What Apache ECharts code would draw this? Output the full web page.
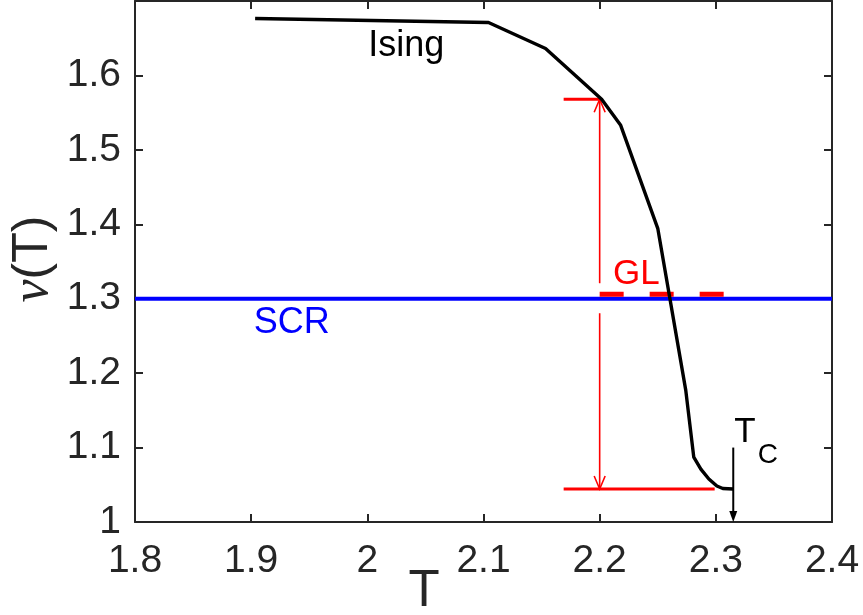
<!DOCTYPE html>
<html>
<head>
<meta charset="utf-8">
<script src="https://cdn.jsdelivr.net/npm/echarts@6/dist/echarts.min.js"></script>
<style>
html,body{margin:0;padding:0;background:#fff;}
#chart{width:863px;height:615px;}
</style>
</head>
<body>
<div id="chart"></div>
<script>
// ---- data ----
const xTicks = [1.8, 1.9, 2.0, 2.1, 2.2, 2.3, 2.4];
const yTicks = [1.0, 1.1, 1.2, 1.3, 1.4, 1.5, 1.6];
const isingT  = [1.9034, 2.1043, 2.1534, 2.2017, 2.2181, 2.2500, 2.2741, 2.2810, 2.2871, 2.2940, 2.3009, 2.3060, 2.3150];
const isingNu = [1.6765, 1.6711, 1.6362, 1.5680, 1.5329, 1.3946, 1.1772, 1.0872, 1.0711, 1.0577, 1.0483, 1.0450, 1.0443];
const scrNu = 1.3;
const scrT = [1.8, 2.4];
const glNu = 1.306;
const glT = [2.2, 2.307];
const redTopT = [2.169, 2.2017];
const redTopNu = 1.568;
const redBotT = [2.169, 2.299];
const redBotNu = 1.0443;
const redArrowT = 2.2;
const redArrowGap = [1.2805, 1.3208];
const tcT = 2.315;
const tcNu = [1.1, 1.0];
const labelText = ['Ising', 'SCR', 'GL', 'T', 'C'];
const labelT    = [2.0336, 1.9349, 2.2315, 2.325, 2.3448];
const labelNu   = [1.6389, 1.2678, 1.3322, 1.120, 1.0899];

// ---- build ----
const AX = '#262626';
const sans = '"Liberation Sans", Arial, Helvetica, sans-serif';
const labelColor = ['#000000', '#0000ff', '#ff0000', '#000000', '#000000'];
const labelSize = [36, 36, 35, 35, 28];

function fmt(v){ return String(Math.round(v*10)/10); }

const chart = echarts.init(document.getElementById('chart'));

function axisCommon(pos, showLabel, isX){
  return {
    type:'value', position:pos,
    min: isX ? xTicks[0] : yTicks[0],
    max: isX ? xTicks[xTicks.length-1] : 1.7,
    interval: 0.1,
    axisLine:{show:true, onZero:false, lineStyle:{color:AX, width:2}},
    axisTick:{show:true, inside:true, length:8, lineStyle:{color:AX, width:2}},
    axisLabel:{show:showLabel, color:AX, fontSize:39, fontFamily:sans,
      margin: isX ? 20 : 14,
      formatter: v => (v > 1.69 && !isX) ? '' : fmt(v)},
    splitLine:{show:false}
  };
}

const arrowData = [
  [redArrowT, redArrowGap[1], redArrowT, redTopNu, 0],
  [redArrowT, redArrowGap[0], redArrowT, redBotNu, 0],
  [tcT, tcNu[0], tcT, tcNu[1], 1]
];

function renderArrow(params, api){
  const p1 = api.coord([api.value(0), api.value(1)]);
  const p2 = api.coord([api.value(2), api.value(3)]);
  const kind = api.value(4);
  const dx = p2[0]-p1[0], dy = p2[1]-p1[1];
  const len = Math.sqrt(dx*dx+dy*dy);
  const ux = dx/len, uy = dy/len, nx = -uy, ny = ux;
  if (kind === 0){
    const L = 13, W = 5.5;
    const b = [p2[0]-ux*L, p2[1]-uy*L];
    return {type:'group', children:[
      {type:'line', shape:{x1:p1[0],y1:p1[1],x2:p2[0],y2:p2[1]}, style:{stroke:'#ff0000', lineWidth:1.6}},
      {type:'polyline', shape:{points:[[b[0]+nx*W,b[1]+ny*W],[p2[0],p2[1]],[b[0]-nx*W,b[1]-ny*W]]}, style:{stroke:'#ff0000', lineWidth:1.6, fill:null}}
    ]};
  } else {
    const L = 11, W = 4;
    const b = [p2[0]-ux*L, p2[1]-uy*L];
    return {type:'group', children:[
      {type:'line', shape:{x1:p1[0],y1:p1[1],x2:b[0],y2:b[1]}, style:{stroke:'#000', lineWidth:2}},
      {type:'polygon', shape:{points:[[b[0]+nx*W,b[1]+ny*W],[p2[0],p2[1]],[b[0]-nx*W,b[1]-ny*W]]}, style:{fill:'#000'}}
    ]};
  }
}

function renderLabel(params, api){
  const i = params.dataIndex;
  const p = api.coord([api.value(0), api.value(1)]);
  return {type:'text', x:p[0], y:p[1], style:{text:labelText[i], fill:labelColor[i],
    fontSize:labelSize[i], fontFamily:sans, align:'center', verticalAlign:'middle'}};
}

const option = {
  animation:false,
  backgroundColor:'#fff',
  grid:{left:135, right:31, top:1, bottom:93, containLabel:false},
  xAxis:[axisCommon('bottom', true, true), axisCommon('top', false, true)],
  yAxis:[axisCommon('left', true, false), axisCommon('right', false, false)],
  graphic:[
    {type:'text', x:33, y:259, rotation:Math.PI/2, style:{
      text:'{n|ν}{p|(T)}', align:'center', verticalAlign:'middle',
      rich:{n:{fontFamily:'"Liberation Serif", "Times New Roman", serif', fontStyle:'italic', fontSize:52, fill:AX},
            p:{fontFamily:sans, fontSize:50, fill:AX}}}},
    {type:'text', x:424, y:592, style:{text:'T', fontFamily:sans, fontSize:51, fill:AX, align:'center', verticalAlign:'middle'}}
  ],
  series:[
    {type:'line', name:'SCR', symbol:'none', silent:true,
     data: scrT.map(t => [t, scrNu]), lineStyle:{color:'#0000ff', width:4}},
    {type:'line', name:'GL', symbol:'none', silent:true,
     data: glT.map(t => [t, glNu]), lineStyle:{color:'#ff0000', width:5, type:[24,26], cap:'butt'}},
    {type:'line', name:'redTop', symbol:'none', silent:true,
     data: redTopT.map(t => [t, redTopNu]), lineStyle:{color:'#ff0000', width:3}},
    {type:'line', name:'redBot', symbol:'none', silent:true,
     data: redBotT.map(t => [t, redBotNu]), lineStyle:{color:'#ff0000', width:3}},
    {type:'line', name:'Ising', symbol:'none', silent:true,
     data: isingT.map((t,i) => [t, isingNu[i]]), lineStyle:{color:'#000', width:3.4}},
    {type:'custom', name:'arrows', silent:true, renderItem:renderArrow, data:arrowData, clip:false},
    {type:'custom', name:'labels', silent:true, renderItem:renderLabel,
     data: labelT.map((t,i) => [t, labelNu[i]]), clip:false}
  ]
};
chart.setOption(option);
</script>
</body>
</html>
